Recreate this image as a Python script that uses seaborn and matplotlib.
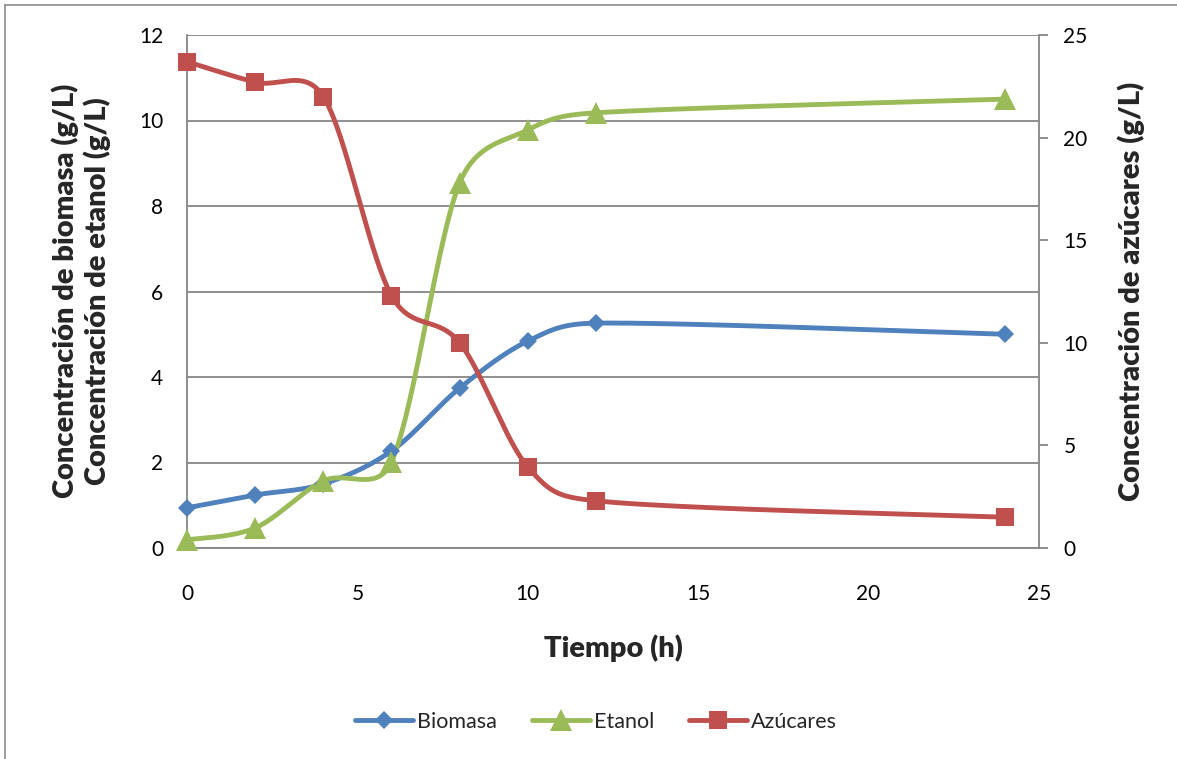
import numpy as np
import pandas as pd
import matplotlib
matplotlib.use("Agg")
import matplotlib.pyplot as plt
from matplotlib.lines import Line2D
import seaborn as sns

# Fermentation time course
tiempo = [0, 2, 4, 6, 8, 10, 12, 24]
biomasa = [0.94, 1.24, 1.50, 2.27, 3.74, 4.84, 5.26, 5.00]
etanol = [0.19, 0.47, 1.57, 2.01, 8.54, 9.78, 10.18, 10.50]
azucares = [23.7, 22.7, 22.0, 12.3, 10.0, 3.95, 2.30, 1.50]

series_names = ["Biomasa", "Etanol", "Azúcares"]
colors = ["#4F81BD", "#9BBB59", "#C0504D"]

sns.set_theme(style="white")
plt.rcParams["font.family"] = ["Lato", "DejaVu Sans"]

W, H = 1177, 759
fig = plt.figure(figsize=(W / 100, H / 100), dpi=100)
ax_l, ax_r, ax_t, ax_b = 187, 1039, 35, 548
ax = fig.add_axes([ax_l / W, 1 - ax_b / H, (ax_r - ax_l) / W, (ax_b - ax_t) / H])
ax2 = ax.twinx()

XMAX, Y1MAX, Y2MAX = 25, 12, 25
pw, ph = ax_r - ax_l, ax_b - ax_t


def smooth_curve(x, y, ymax, n=60):
    """Catmull-Rom style Bezier path through the points, in screen proportions,
    with the handle length limited to half of each segment."""
    P = np.column_stack([np.asarray(x, float) / XMAX * pw,
                         np.asarray(y, float) / ymax * ph])
    m = len(P)
    T = np.zeros_like(P)
    for i in range(m):
        T[i] = (P[min(i + 1, m - 1)] - P[max(i - 1, 0)]) / 6
    out = []
    s = np.linspace(0, 1, n)[:, None]
    for i in range(m - 1):
        L = np.linalg.norm(P[i + 1] - P[i])

        def handle(v):
            mag = np.linalg.norm(v)
            return v if mag <= 0.5 * L else v / mag * 0.5 * L

        c0, c3 = P[i], P[i + 1]
        c1 = c0 + handle(T[i])
        c2 = c3 - handle(T[i + 1])
        seg = ((1 - s) ** 3) * c0 + 3 * ((1 - s) ** 2) * s * c1 + 3 * (1 - s) * s ** 2 * c2 + s ** 3 * c3
        out.append(seg if i == 0 else seg[1:])
    out = np.vstack(out)
    return out[:, 0] / pw * XMAX, out[:, 1] / ph * ymax


lw = 3.5
specs = [
    (ax, biomasa, Y1MAX, "D", 9.5, colors[0]),
    (ax, etanol, Y1MAX, "^", 16, colors[1]),
    (ax2, azucares, Y2MAX, "s", 13.5, colors[2]),
]
for name, (a, vals, ymax, mk, ms, col) in zip(series_names, specs):
    sx, sy = smooth_curve(tiempo, vals, ymax)
    curve = pd.DataFrame({"x": sx, "y": sy})
    sns.lineplot(data=curve, x="x", y="y", ax=a, color=col, linewidth=lw,
                 sort=False, estimator=None, legend=False, solid_capstyle="round")
    pts = pd.DataFrame({"t": tiempo, "v": vals})
    a.plot(pts["t"], pts["v"], linestyle="none", marker=mk, markersize=ms,
           color=col, markeredgewidth=0, clip_on=False, zorder=5)

grid_col = "#868686"
ax.set_xlim(0, XMAX)
ax.set_ylim(0, Y1MAX)
ax2.set_ylim(0, Y2MAX)
ax.set_xticks(range(0, 26, 5))
ax.set_yticks(range(0, 13, 2))
ax2.set_yticks(range(0, 26, 5))
ax.yaxis.grid(True, color=grid_col, linewidth=1.3)
ax.xaxis.grid(False)
ax2.grid(False)

for sp in ["top", "right"]:
    ax.spines[sp].set_visible(False)
for sp in ["top", "left", "bottom"]:
    ax2.spines[sp].set_visible(False)
for sp in ["left", "bottom"]:
    ax.spines[sp].set_color(grid_col)
    ax.spines[sp].set_linewidth(1.3)
ax2.spines["right"].set_color(grid_col)
ax2.spines["right"].set_linewidth(1.3)

tick_fs = 15
ax.tick_params(axis="x", length=0, pad=26, labelsize=tick_fs, labelcolor="black")
ax.tick_params(axis="y", length=0, pad=17, labelsize=tick_fs, labelcolor="black")
ax2.tick_params(axis="y", direction="out", length=6.5, width=1.3, color=grid_col,
                pad=11, labelsize=tick_fs, labelcolor="black")

ax.set_xlabel("")
ax.set_ylabel("")
ax2.set_ylabel("")

lab_fs = 21
lab_w = "heavy"
fig.text(613 / W, 1 - 648 / H, "Tiempo (h)", ha="center", va="center",
         fontsize=lab_fs, fontweight=lab_w)
fig.text(81 / W, 1 - 291 / H, "Concentración de biomasa (g/L)\nConcentración de etanol (g/L)",
         ha="center", va="center", rotation=90, fontsize=lab_fs, fontweight=lab_w,
         multialignment="center", linespacing=1.2)
fig.text(1131 / W, 1 - 291 / H, "Concentración de azúcares (g/L)", ha="center", va="center",
         rotation=90, fontsize=lab_fs, fontweight=lab_w)

handles = [
    Line2D([], [], color=colors[0], lw=lw, marker="D", markersize=9.5, markeredgewidth=0, solid_capstyle="round"),
    Line2D([], [], color=colors[1], lw=lw, marker="^", markersize=16, markeredgewidth=0, solid_capstyle="round"),
    Line2D([], [], color=colors[2], lw=lw, marker="s", markersize=13.5, markeredgewidth=0, solid_capstyle="round"),
]
fig.legend(handles, series_names, loc="center", bbox_to_anchor=(596 / W, 1 - 722 / H),
           ncol=3, frameon=False, fontsize=15.5, handlelength=2.7, handletextpad=0.2,
           columnspacing=1.6)

# chart area outline
border = "#8c8c8c"
fig.add_artist(Line2D([4.5 / W, 4.5 / W], [0, 1 - 4.5 / H], transform=fig.transFigure,
                      color=border, lw=1.2))
fig.add_artist(Line2D([4.5 / W, 1], [1 - 4.5 / H, 1 - 4.5 / H], transform=fig.transFigure,
                      color=border, lw=1.2))

fig.savefig("out.png", dpi=100)
